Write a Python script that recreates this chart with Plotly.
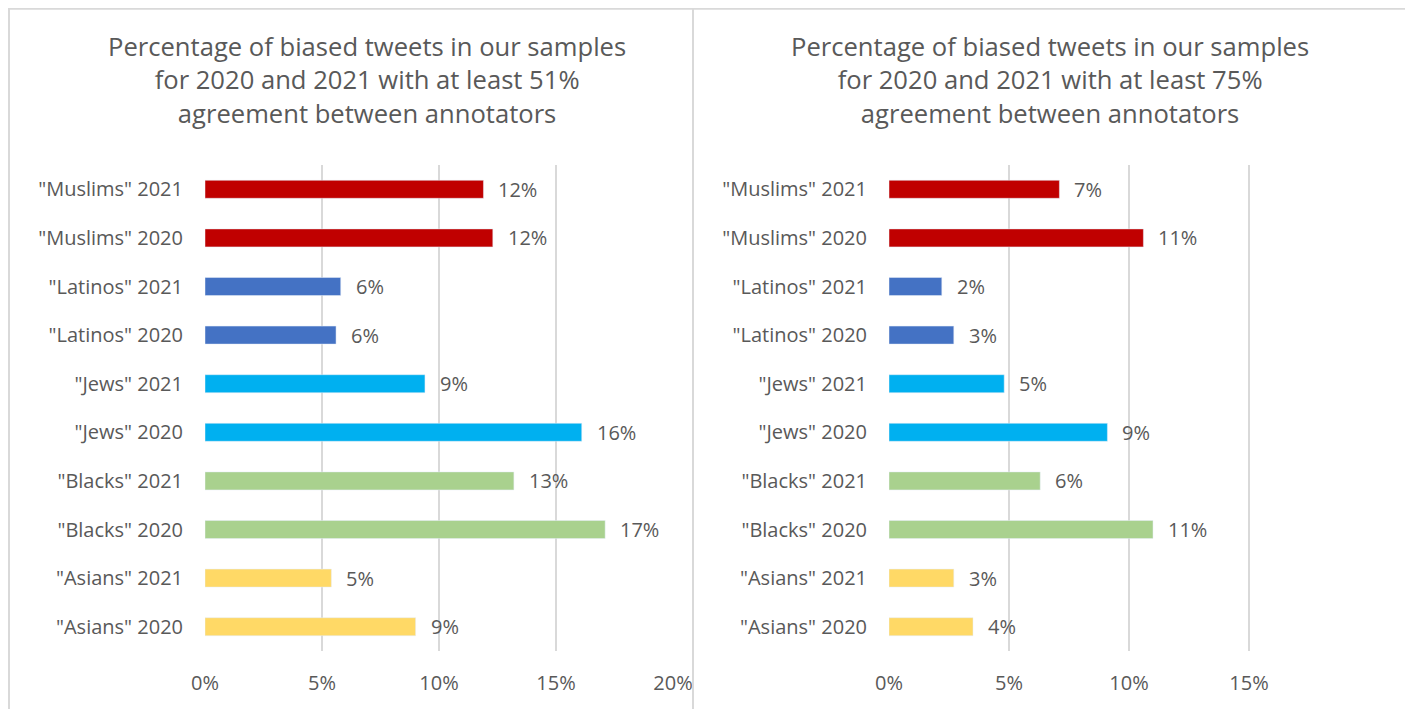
import plotly.graph_objects as go

W, H = 1413, 709
OFF = 8  # page body margin in the browser

categories = ['"Muslims" 2021', '"Muslims" 2020', '"Latinos" 2021', '"Latinos" 2020',
              '"Jews" 2021', '"Jews" 2020', '"Blacks" 2021', '"Blacks" 2020',
              '"Asians" 2021', '"Asians" 2020']
values_51 = [0.119, 0.123, 0.058, 0.056, 0.094, 0.161, 0.132, 0.171, 0.054, 0.090]
values_75 = [0.071, 0.106, 0.022, 0.027, 0.048, 0.091, 0.063, 0.110, 0.027, 0.035]
labels_51 = ["12%", "12%", "6%", "6%", "9%", "16%", "13%", "17%", "5%", "9%"]
labels_75 = ["7%", "11%", "2%", "3%", "5%", "9%", "6%", "11%", "3%", "4%"]
x_ticks = [0, 0.05, 0.10, 0.15, 0.20]
x_tick_labels = ["0%", "5%", "10%", "15%", "20%"]
titles = ["Percentage of biased tweets in our samples<br>for 2020 and 2021 with at least 51%<br>agreement between annotators",
          "Percentage of biased tweets in our samples<br>for 2020 and 2021 with at least 75%<br>agreement between annotators"]

group_colors = {"Muslims": "#C00000", "Latinos": "#4472C4", "Jews": "#00B0F0",
                "Blacks": "#A9D18E", "Asians": "#FFD966"}
colors = [group_colors[c.split('"')[1]] for c in categories]

FONT = "Open Sans"
TXT = "#595959"
GRID = "#D9D9D9"
FS = 20

def px(x):
    return (x - OFF) / W

def py(y):
    return 1 - (y - OFF) / H

fig = go.Figure()
fig.add_trace(go.Bar(x=values_51, y=categories, orientation="h", marker_color=colors,
                     width=0.37, xaxis="x", yaxis="y", hoverinfo="skip"))
fig.add_trace(go.Bar(x=values_75, y=categories, orientation="h", marker_color=colors,
                     width=0.37, xaxis="x2", yaxis="y2", hoverinfo="skip"))

annotations = []
for xa, ya, vals, labs in [("x", "y", values_51, labels_51), ("x2", "y2", values_75, labels_75)]:
    for c, v, l in zip(categories, vals, labs):
        annotations.append(dict(x=v, y=c, xref=xa, yref=ya, text=l, showarrow=False,
                                xanchor="left", xshift=13, font=dict(family=FONT, size=FS, color=TXT)))

annotations.append(dict(x=px(367), y=py(80), xref="paper", yref="paper", text=titles[0],
                        showarrow=False, xanchor="center", yanchor="middle",
                        font=dict(family=FONT, size=25.6, color=TXT)))
annotations.append(dict(x=px(1050), y=py(80), xref="paper", yref="paper", text=titles[1],
                        showarrow=False, xanchor="center", yanchor="middle",
                        font=dict(family=FONT, size=25.6, color=TXT)))

ydom = [py(651), py(165)]
axis_common = dict(showgrid=True, gridcolor=GRID, gridwidth=1.5, zeroline=False, showline=False,
                   tickvals=x_ticks, ticktext=x_tick_labels, tickfont=dict(family=FONT, size=FS, color=TXT),
                   ticklabelstandoff=18, fixedrange=True, automargin=False)
yaxis_common = dict(categoryorder="array", categoryarray=categories, autorange="reversed",
                    showgrid=False, showline=False, zeroline=False, ticks="",
                    tickfont=dict(family=FONT, size=FS, color=TXT), ticklabelstandoff=21,
                    domain=ydom, fixedrange=True, automargin=False)

fig.update_layout(
    width=W, height=H, margin=dict(l=0, r=0, t=0, b=0, pad=0, autoexpand=False),
    paper_bgcolor="white", plot_bgcolor="white", showlegend=False,
    xaxis=dict(domain=[px(205), px(673)], range=[0, 0.2], anchor="y", **axis_common),
    yaxis=dict(anchor="x", **yaxis_common),
    xaxis2=dict(domain=[px(889), px(1297)], range=[0, 0.17], anchor="y2", **axis_common),
    yaxis2=dict(anchor="x2", **yaxis_common),
    annotations=annotations,
    shapes=[
        dict(type="line", xref="paper", yref="paper", x0=px(9), x1=px(1407), y0=0.999, y1=0.999,
             line=dict(color=GRID, width=2)),
        dict(type="line", xref="paper", yref="paper", x0=px(9), x1=px(9), y0=1, y1=0,
             line=dict(color=GRID, width=2)),
        dict(type="line", xref="paper", yref="paper", x0=px(693), x1=px(693), y0=1, y1=0,
             line=dict(color=GRID, width=2)),
        dict(type="line", xref="paper", yref="paper", x0=px(1407), x1=px(1407), y0=1, y1=0,
             line=dict(color=GRID, width=2)),
    ],
)

fig.write_html("out.html")
